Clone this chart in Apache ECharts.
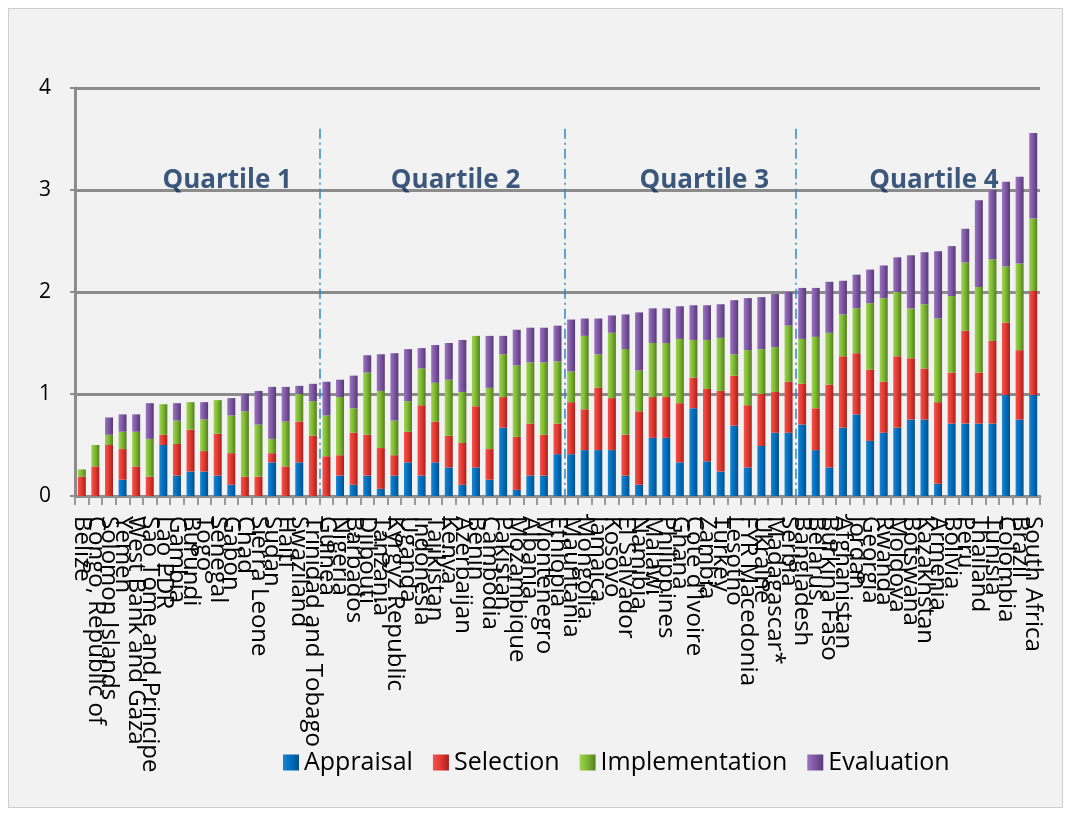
<!DOCTYPE html>
<html>
<head>
<meta charset="utf-8">
<script src="https://cdn.jsdelivr.net/npm/echarts@6/dist/echarts.min.js"></script>
<style>
  html, body { margin: 0; padding: 0; background: #ffffff; }
  #chart { position: absolute; left: 8px; top: 8px; width: 1053px; height: 798px; border: 1px solid #cfcfcf; }
</style>
</head>
<body>
<div id="chart"></div>
<script>
const categories = [
  "Belize", "Congo, Republic of", "Solomon Islands", "Yemen", "West Bank and Gaza",
  "Sao Tome and Principe", "Lao PDR", "Gambia", "Burundi", "Togo", "Senegal", "Gabon",
  "Chad", "Sierra Leone", "Sudan", "Haiti", "Swaziland", "Trinidad and Tobago",
  "Guinea", "Nigeria", "Barbados", "Djibouti", "Tanzania", "Kyrgyz Republic", "Uganda",
  "Indonesia", "Tajikistan", "Kenya", "Azerbaijan", "Benin", "Cambodia", "Pakistan",
  "Mozambique", "Albania", "Montenegro", "Ethiopia",
  "Mauritania", "Mongolia", "Jamaica", "Kosovo", "El Salvador", "Namibia", "Malawi",
  "Philippines", "Ghana", "Cote d'Ivoire", "Zambia", "Turkey", "Lesotho", "FYR Macedonia",
  "Ukraine", "Madagascar*", "Serbia",
  "Bangladesh", "Belarus", "Burkina Faso", "Afghanistan", "Jordan", "Georgia", "Rwanda",
  "Moldova", "Botswana", "Kazakhstan", "Armenia", "Bolivia", "Peru", "Thailand", "Tunisia",
  "Colombia", "Brazil", "South Africa"
];

const appraisal = [
  0, 0, 0, 0.16, 0, 0, 0.50, 0.20, 0.24, 0.24, 0.20, 0.11, 0, 0, 0.33, 0, 0.33, 0,
  0, 0.20, 0.11, 0.20, 0.07, 0.20, 0.33, 0.20, 0.33, 0.28, 0.11, 0.28, 0.16, 0.67, 0.06, 0.20, 0.20, 0.41,
  0.41, 0.45, 0.45, 0.45, 0.20, 0.11, 0.57, 0.57, 0.33, 0.86, 0.34, 0.24, 0.69, 0.28, 0.49, 0.62, 0.62,
  0.70, 0.45, 0.28, 0.67, 0.80, 0.54, 0.62, 0.67, 0.75, 0.75, 0.12, 0.71, 0.71, 0.71, 0.71, 0.99, 0.75, 0.99
];
const selection = [
  0.19, 0.29, 0.50, 0.30, 0.29, 0.19, 0.10, 0.31, 0.41, 0.20, 0.41, 0.31, 0.19, 0.19, 0.09, 0.29, 0.40, 0.59,
  0.39, 0.20, 0.51, 0.40, 0.40, 0.20, 0.30, 0.69, 0.40, 0.31, 0.41, 0.60, 0.30, 0.30, 0.52, 0.51, 0.40, 0.30,
  0.51, 0.40, 0.61, 0.51, 0.40, 0.72, 0.40, 0.40, 0.58, 0.30, 0.71, 0.79, 0.49, 0.61, 0.51, 0.40, 0.50,
  0.40, 0.41, 0.81, 0.70, 0.60, 0.70, 0.50, 0.70, 0.60, 0.50, 0.80, 0.50, 0.91, 0.50, 0.81, 0.71, 0.68, 1.02
];
const implementation = [
  0.07, 0.21, 0.10, 0.17, 0.34, 0.37, 0.30, 0.23, 0.27, 0.31, 0.33, 0.37, 0.64, 0.51, 0.14, 0.44, 0.27, 0.34,
  0.40, 0.57, 0.24, 0.61, 0.56, 0.34, 0.30, 0.36, 0.38, 0.55, 0.50, 0.69, 0.60, 0.42, 0.70, 0.60, 0.71, 0.61,
  0.30, 0.72, 0.33, 0.64, 0.84, 0.40, 0.53, 0.53, 0.63, 0.37, 0.48, 0.52, 0.21, 0.54, 0.44, 0.44, 0.55,
  0.44, 0.70, 0.51, 0.41, 0.44, 0.65, 0.82, 0.63, 0.49, 0.63, 0.82, 0.75, 0.67, 0.84, 0.80, 0.55, 0.85, 0.71
];
const evaluation = [
  0, 0, 0.17, 0.17, 0.17, 0.35, 0, 0.17, 0, 0.17, 0, 0.17, 0.17, 0.33, 0.51, 0.34, 0.08, 0.17,
  0.33, 0.17, 0.32, 0.17, 0.36, 0.66, 0.51, 0.20, 0.37, 0.36, 0.51, 0, 0.51, 0.18, 0.35, 0.34, 0.34, 0.35,
  0.51, 0.17, 0.35, 0.17, 0.34, 0.57, 0.34, 0.34, 0.32, 0.34, 0.34, 0.33, 0.53, 0.51, 0.51, 0.52, 0.33,
  0.50, 0.48, 0.50, 0.33, 0.33, 0.33, 0.32, 0.34, 0.52, 0.51, 0.66, 0.49, 0.33, 0.85, 0.68, 0.83, 0.85, 0.84
];

const seriesNames = ["Appraisal", "Selection", "Implementation", "Evaluation"];
const quartileNames = ["Quartile 1", "Quartile 2", "Quartile 3", "Quartile 4"];
const quartileBounds = [18, 36, 53];   // category index where a new quartile starts

function cyl(light, base, dark) {
  return new echarts.graphic.LinearGradient(0, 0, 1, 0, [
    { offset: 0, color: light },
    { offset: 0.45, color: base },
    { offset: 1, color: dark }
  ]);
}
const colors = [
  cyl('#1a85d2', '#0070c0', '#00508c'),
  cyl('#f2544c', '#e53a32', '#a8201b'),
  cyl('#9fd44f', '#7fba34', '#557f1f'),
  cyl('#9b74c0', '#8058a6', '#573a75')
];
const values = [appraisal, selection, implementation, evaluation];

const chart = echarts.init(document.getElementById('chart'), null, { renderer: 'canvas' });

const barSeries = seriesNames.map((name, i) => ({
  name: name,
  type: 'bar',
  stack: 'total',
  barWidth: 8,
  xAxisIndex: 0,
  yAxisIndex: 0,
  itemStyle: { color: colors[i] },
  data: values[i]
}));

// annotation anchors on a hidden linear x axis (0..number of categories)
const labelAnchorX = [11.2, 28.0, 46.3, 63.2];
const labelAnchorY = 3.09;
const dividerTop = 3.6;

const option = {
  animation: false,
  backgroundColor: '#f2f2f2',
  textStyle: { fontFamily: 'Open Sans, DejaVu Sans, sans-serif' },
  grid: { left: 66, right: 22, top: 79, bottom: 311, containLabel: false },
  legend: {
    data: seriesNames,
    left: 269,
    top: 736,
    icon: 'rect',
    itemWidth: 16,
    itemHeight: 16,
    itemGap: 20,
    textStyle: { fontSize: 25, color: '#000', fontFamily: 'Open Sans' }
  },
  xAxis: [
    {
      type: 'category',
      data: categories,
      axisLine: { lineStyle: { color: '#8c8c8c', width: 3 } },
      axisTick: { show: true, length: 9, lineStyle: { color: '#9a9a9a', width: 2 } },
      axisLabel: {
        interval: 0,
        rotate: -90,
        margin: 20,
        fontSize: 24,
        color: '#000',
        fontFamily: 'Open Sans'
      }
    },
    {
      type: 'value',
      min: 0,
      max: categories.length,
      show: false
    }
  ],
  yAxis: {
    type: 'value',
    min: 0,
    max: 4,
    interval: 1,
    axisLine: { show: true, lineStyle: { color: '#8c8c8c', width: 3 } },
    axisTick: { show: true, length: 5, lineStyle: { color: '#8c8c8c', width: 2 } },
    axisLabel: { fontSize: 21, color: '#000', margin: 24, fontFamily: 'Open Sans' },
    splitLine: { lineStyle: { color: '#8c8c8c', width: 3 } }
  },
  series: barSeries.concat([{
    name: 'quartiles',
    type: 'scatter',
    xAxisIndex: 1,
    yAxisIndex: 0,
    symbolSize: 0,
    silent: true,
    data: labelAnchorX.map(x => [x, labelAnchorY]),
    label: {
      show: true,
      position: 'inside',
      formatter: p => quartileNames[p.dataIndex],
      fontSize: 26,
      fontWeight: 'bold',
      color: '#0d2f5c',
      fontFamily: 'Open Sans'
    },
    markLine: {
      silent: true,
      symbol: ['none', 'none'],
      label: { show: false },
      lineStyle: { color: '#2f86c6', type: [10, 4, 2, 4], width: 1.5 },
      data: quartileBounds.map(b => [{ coord: [b, dividerTop] }, { coord: [b, 0] }])
    }
  }])
};
chart.setOption(option);
</script>
</body>
</html>
